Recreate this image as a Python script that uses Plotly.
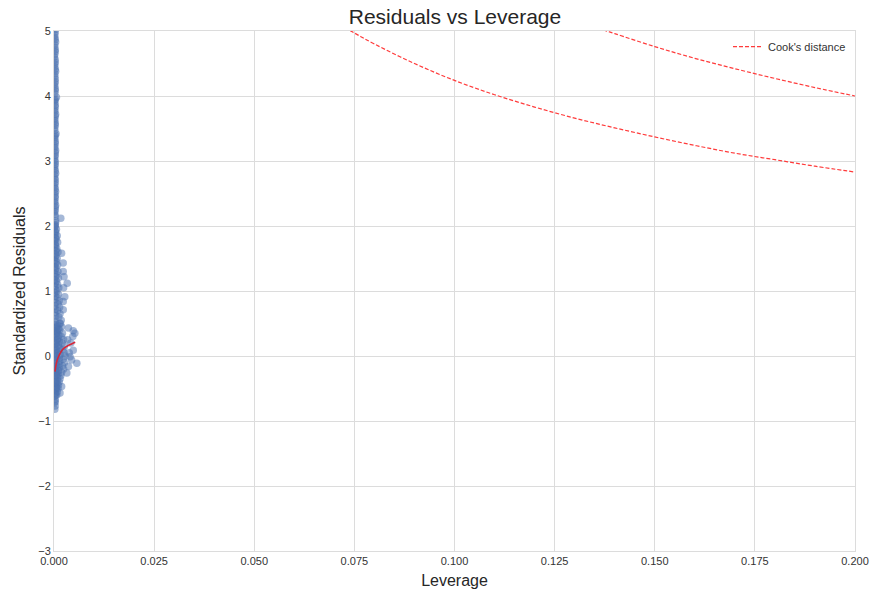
import plotly.graph_objects as go

# ---- data ----
lev_hi = [0.0002,0.0003,0.0002,0.0004,0.0002,0.0003,0.0001,0.0003,0.0002,0.0004,
          0.0002,0.0003,0.0002,0.0003,0.0006,0.0002,0.0003,0.0002,0.0004,0.0002,
          0.0003,0.0002,0.0005,0.0002,0.0003,0.0002,0.0004,0.0003,0.0002,0.0003,
          0.0002,0.0004,0.0002,0.0003,0.0002,0.0004,0.0003,0.0002,0.0004,0.0003,
          0.0002,0.0017,0.0004]
res_hi = [5.05,4.98,4.9,4.83,4.75,4.68,4.6,4.52,4.45,4.38,
          4.3,4.22,4.15,4.08,3.98,3.93,3.86,3.79,3.72,3.65,
          3.58,3.51,3.42,3.37,3.3,3.23,3.16,3.09,3.02,2.95,
          2.88,2.81,2.74,2.67,2.6,2.53,2.46,2.39,2.32,2.25,
          2.18,2.12,2.05]

lev_hi2 = [0.0003,0.0002,0.0003,0.0002,0.0003,0.0002,0.0003,0.0002,0.0003,0.0002,
           0.0003,0.0002,0.0003,0.0002,0.0003,0.0002,0.0003,0.0002,0.0003,0.0002,
           0.0003,0.0002,0.0003,0.0002,0.0003,0.0002,0.0003,0.0002,0.0003,0.0002,
           0.0003,0.0002,0.0003,0.0002,0.0003,0.0002,0.0003,0.0002,0.0003,0.0002,
           0.0003,0.0004,0.0003]
res_hi2 = [5.02,4.94,4.87,4.79,4.71,4.64,4.56,4.49,4.41,4.34,
           4.26,4.19,4.11,4.04,3.95,3.9,3.83,3.76,3.69,3.62,
           3.55,3.47,3.4,3.34,3.27,3.2,3.13,3.06,2.99,2.92,
           2.85,2.78,2.71,2.64,2.57,2.5,2.43,2.36,2.29,2.22,
           2.15,2.08,2.02]

lev_mid = [0.0003,0.0006,0.0004,0.0008,0.0005,0.0009,0.0004,0.0007,0.0010,0.0019,
           0.0005,0.0008,0.0006,0.0023,0.0009,0.0005,0.0010,0.0023,0.0007,0.0025,
           0.0011,0.0006,0.0033,0.0009,0.0012,0.0024,0.0007,0.0011,0.0027,0.0008,
           0.0013,0.0023,0.0010,0.0014,0.0023,0.0009,0.0015,0.0012,0.0018,0.0014]
res_mid = [2.0,1.95,1.9,1.85,1.8,1.75,1.7,1.65,1.6,1.58,
           1.55,1.5,1.45,1.43,1.4,1.35,1.3,1.3,1.25,1.22,
           1.2,1.15,1.12,1.1,1.05,1.05,1.0,0.95,0.91,0.9,
           0.85,0.84,0.8,0.75,0.71,0.7,0.65,0.6,0.55,0.5]

lev_mid2 = [0.0002,0.0003,0.0002,0.0004,0.0002,0.0003,0.0002,0.0004,0.0002,0.0003,
            0.0002,0.0004,0.0002,0.0003,0.0002,0.0004,0.0002,0.0003,0.0002,0.0004,
            0.0002,0.0003,0.0002,0.0004,0.0002,0.0003,0.0002,0.0004,0.0002,0.0003]
res_mid2 = [1.98,1.92,1.87,1.82,1.77,1.72,1.67,1.62,1.57,1.52,
            1.47,1.42,1.37,1.32,1.27,1.22,1.17,1.12,1.07,1.02,
            0.97,0.92,0.87,0.82,0.77,0.72,0.67,0.62,0.57,0.52]

lev_low_a = [0.0003,0.0002,0.0004,0.0003,0.0002,0.0004,0.0003,0.0002,0.0004,0.0003,
             0.0002,0.0004,0.0003,0.0002,0.0004,0.0003,0.0002,0.0004,0.0003,0.0002,
             0.0004,0.0003,0.0002,0.0003,0.0002,0.0003,0.0002]
res_low_a = [0.48,0.43,0.38,0.33,0.28,0.23,0.18,0.13,0.08,0.03,
             -0.02,-0.07,-0.12,-0.17,-0.22,-0.27,-0.32,-0.37,-0.42,-0.47,
             -0.52,-0.57,-0.62,-0.67,-0.72,-0.77,-0.82]

lev_low_b = [0.0016,0.0019,0.0014,0.0021,0.0018,0.0024,0.0020,0.0026,0.0022,0.0025,
             0.0028,0.0023,0.0026,0.0021,0.0024,0.0019,0.0017,0.0015,0.0013,0.0011,
             0.0010,0.0008,0.0007]
res_low_b = [0.5,0.45,0.4,0.35,0.3,0.25,0.2,0.15,0.1,0.05,
             0.0,-0.05,-0.1,-0.15,-0.2,-0.25,-0.3,-0.35,-0.4,-0.45,
             -0.5,-0.55,-0.6]

lev_low_c = [0.0009,0.0011,0.0008,0.0012,0.0010,0.0013,0.0011,0.0014,0.0012,0.0015,
             0.0013,0.0014,0.0012,0.0013,0.0011,0.0010,0.0009,0.0008,0.0007,0.0006]
res_low_c = [0.47,0.42,0.37,0.32,0.27,0.22,0.17,0.12,0.07,0.02,
             -0.03,-0.08,-0.13,-0.18,-0.23,-0.28,-0.33,-0.38,-0.43,-0.48]

lev_low_d = [0.0006,0.0007,0.0005,0.0006,0.0008,0.0006,0.0007,0.0005,0.0006,0.0007,
             0.0005,0.0006,0.0007,0.0005,0.0006,0.0005,0.0004,0.0005,0.0004,0.0003]
res_low_d = [0.45,0.4,0.35,0.3,0.25,0.2,0.15,0.1,0.05,0.0,
             -0.05,-0.1,-0.15,-0.2,-0.25,-0.3,-0.4,-0.5,-0.6,-0.7]

lev_out = [0.0036,0.0048,0.0052,0.0047,0.0042,0.0048,0.0040,0.0057,0.0036,0.0032,
           0.0019,0.0015,0.0034,0.0038,0.0044]
res_out = [0.43,0.39,0.35,0.30,0.20,0.09,-0.01,-0.11,-0.16,-0.26,
           -0.47,-0.57,0.25,0.05,-0.06]

lowess_lev = [0.00025,0.0005,0.0008,0.0012,0.0018,0.0025,0.0035,0.0045,0.0053]
lowess_res = [-0.24,-0.14,-0.06,0.0,0.07,0.12,0.16,0.19,0.21]

cook05_lev = [0.07,0.075,0.08,0.09,0.10,0.11,0.12,0.13,0.14,0.15,0.16,0.17,0.18,0.19,0.20]
cook05_res = [5.15,4.97,4.80,4.50,4.24,4.02,3.83,3.66,3.51,3.37,3.24,3.12,3.02,2.92,2.83]
cook1_lev = [0.13,0.1375,0.14,0.15,0.16,0.17,0.18,0.19,0.20]
cook1_res = [5.17,5.01,4.96,4.76,4.58,4.42,4.27,4.13,4.00]

x_ticks = [0.0, 0.025, 0.05, 0.075, 0.1, 0.125, 0.15, 0.175, 0.2]
y_ticks = [-3, -2, -1, 0, 1, 2, 3, 4, 5]

lev_all = lev_hi + lev_hi2 + lev_mid + lev_mid2 + lev_low_a + lev_low_b + lev_low_c + lev_low_d + lev_out
res_all = res_hi + res_hi2 + res_mid + res_mid2 + res_low_a + res_low_b + res_low_c + res_low_d + res_out

fig = go.Figure()
fig.add_trace(go.Scatter(
    x=lev_all, y=res_all, mode="markers", showlegend=False,
    marker=dict(color="#4C72B0", size=7.5, opacity=0.5, line=dict(width=0)),
))
fig.add_trace(go.Scatter(
    x=lowess_lev, y=lowess_res, mode="lines", showlegend=False,
    line=dict(color="#d62739", width=1.6, shape="spline"),
))
fig.add_trace(go.Scatter(
    x=cook05_lev, y=cook05_res, mode="lines", name="Cook's distance",
    line=dict(color="#ff3b3b", width=1.2, dash="4px,2px", shape="spline"),
))
fig.add_trace(go.Scatter(
    x=cook1_lev, y=cook1_res, mode="lines", showlegend=False,
    line=dict(color="#ff3b3b", width=1.2, dash="4px,2px", shape="spline"),
))

font = "Liberation Sans, Arial, sans-serif"
fig.update_layout(
    width=874, height=599,
    margin=dict(l=54, r=19, t=31, b=48, autoexpand=False),
    paper_bgcolor="white", plot_bgcolor="white",
    font=dict(family=font, color="#333333", size=11),
    title=dict(text="Residuals vs Leverage", x=455 / 874, xanchor="center",
               y=1 - 17 / 599, yanchor="middle",
               font=dict(size=21, color="#262626", family=font)),
    legend=dict(x=0.995, xanchor="right", y=0.998, yanchor="top",
                bgcolor="rgba(0,0,0,0)", font=dict(size=11, color="#333333")),
)
fig.update_xaxes(
    range=[0, 0.2], tickvals=x_ticks, tickformat=".3f",
    showgrid=True, gridcolor="#dcdcdc", gridwidth=1, zeroline=False,
    showline=True, linecolor="#dcdcdc", mirror=True, ticks="", automargin=False,
    title=dict(text="Leverage", font=dict(size=16, color="#262626"), standoff=8),
    tickfont=dict(size=11, color="#333333"),
)
fig.update_yaxes(
    range=[-3, 5], tickvals=y_ticks,
    showgrid=True, gridcolor="#dcdcdc", gridwidth=1, zeroline=False,
    showline=True, linecolor="#dcdcdc", mirror=True, ticks="", automargin=False,
    title=dict(text="Standardized Residuals", font=dict(size=16, color="#262626"), standoff=8),
    tickfont=dict(size=11, color="#333333"),
)

fig.write_html("out.html", config={"displayModeBar": False},
               post_script="document.body.style.margin='0';document.body.style.overflow='hidden';")
